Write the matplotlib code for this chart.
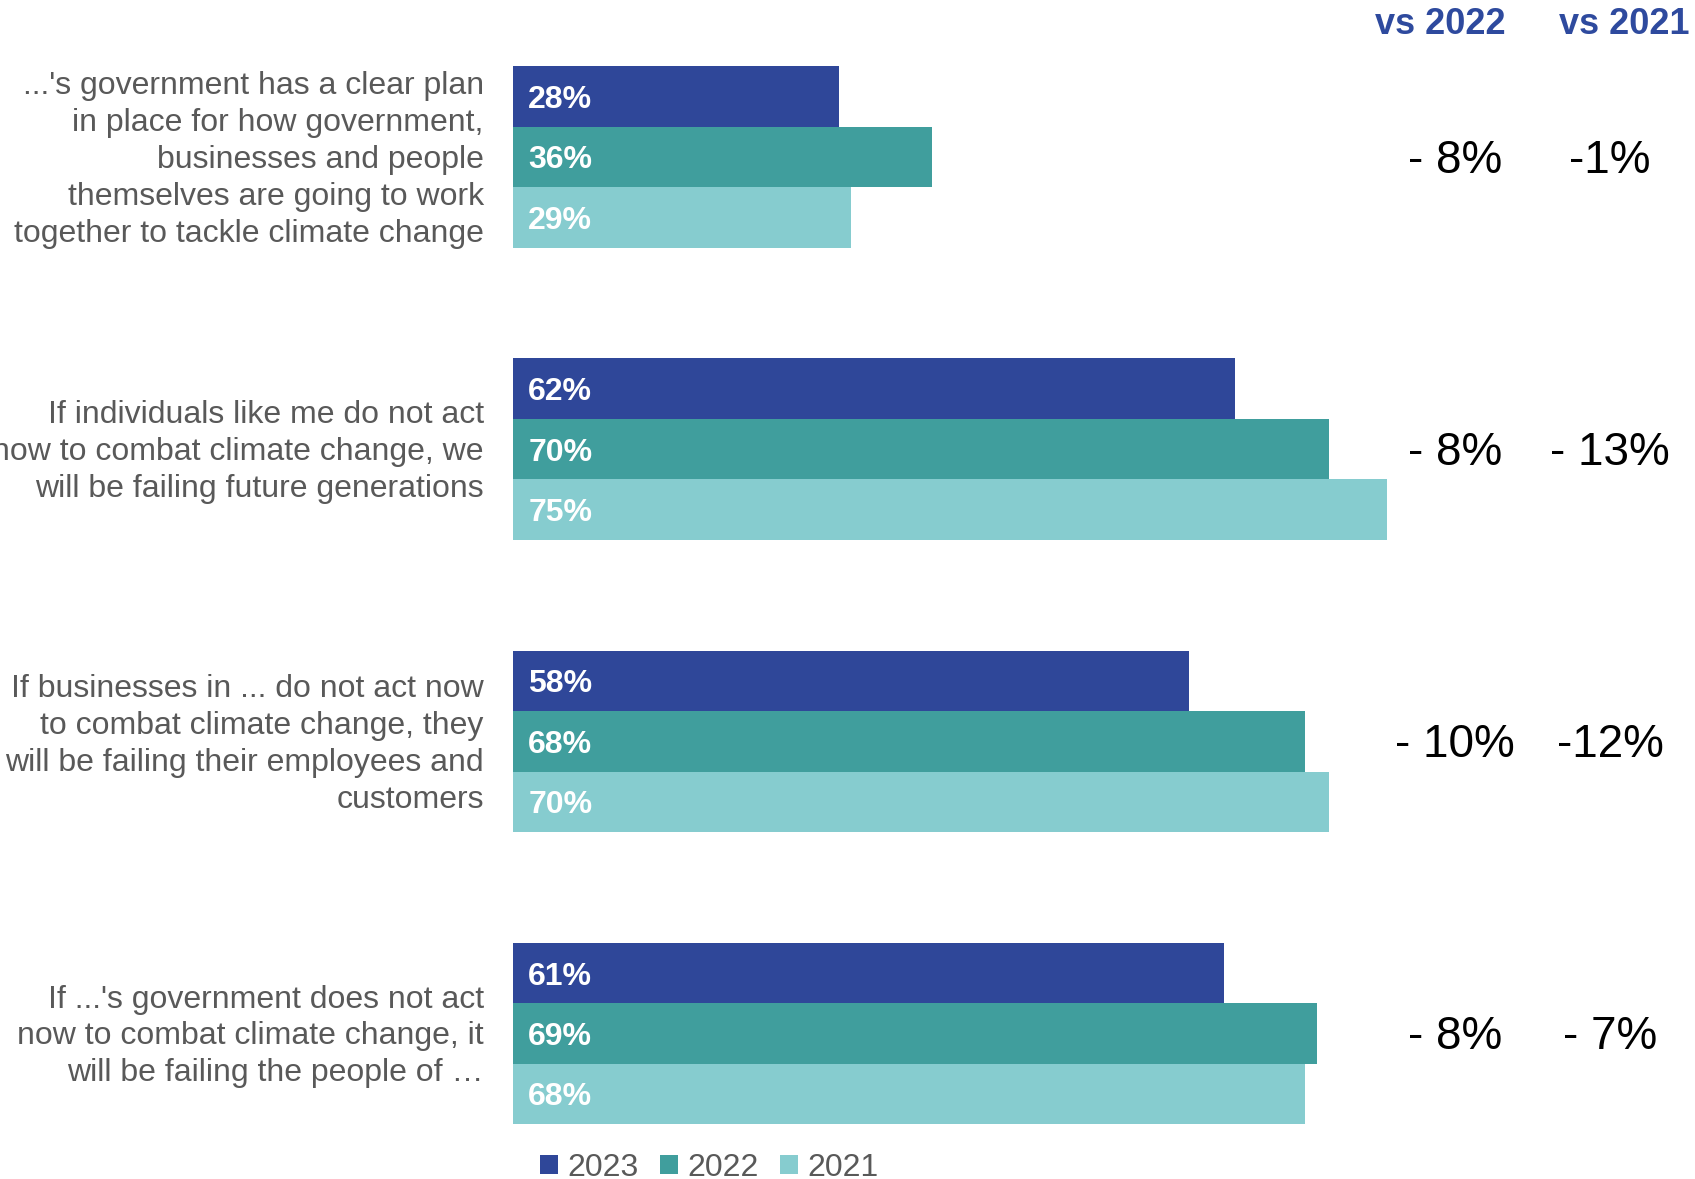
import matplotlib.pyplot as plt
import numpy as np

# data
enunciados = [
    "...'s government has a clear plan\nin place for how government,\nbusinesses and people\nthemselves are going to work\ntogether to tackle climate change",
    "If individuals like me do not act\nnow to combat climate change, we\nwill be failing future generations",
    "If businesses in ... do not act now\nto combat climate change, they\nwill be failing their employees and\ncustomers",
    "If ...'s government does not act\nnow to combat climate change, it\nwill be failing the people of \u2026",
]
anios = ["2023", "2022", "2021"]
valores_2023 = [28, 62, 58, 61]
valores_2022 = [36, 70, 68, 69]
valores_2021 = [29, 75, 70, 68]
vs_2022 = ["- 8%", "- 8%", "- 10%", "- 8%"]
vs_2021 = ["-1%", "- 13%", "-12%", "- 7%"]
colores = ["#2F4799", "#409E9D", "#86CCCF"]

plt.rcParams['font.family'] = ['Liberation Sans', 'DejaVu Sans']

fig = plt.figure(figsize=(16.95, 11.79), dpi=100)
ax = fig.add_axes([513 / 1695, 0, 1165 / 1695, 1])

series = [valores_2023, valores_2022, valores_2021]
alto = 0.207
y = np.arange(len(enunciados))
for k, (vals, col) in enumerate(zip(series, colores)):
    pos = y + (k - 1) * alto
    ax.barh(pos, vals, height=alto, color=col, label=anios[k])
    for p, v in zip(pos, vals):
        # un poco mas abajo para centrar los digitos
        ax.text(1.3, p + 0.012, "%d%%" % v, color="white", fontsize=23, fontweight="bold",
                va="center", ha="left")

ax.set_xlim(0, 100)
ax.set_ylim(3.498, -0.537)
ax.axis("off")

# etiquetas de categorias (a la izquierda)
for i, t in enumerate(enunciados):
    ax.text(-2.5, i + 0.01, t, ha="right", va="center", fontsize=23, color="#595959",
            linespacing=1.3, clip_on=False)

# columnas de cambio
fig.text(1440 / 1695, 1 - 24 / 1179, "vs 2022", ha="center", va="center",
         fontsize=26, fontweight="bold", color="#2E4A9E")
fig.text(1624 / 1695, 1 - 24 / 1179, "vs 2021", ha="center", va="center",
         fontsize=26, fontweight="bold", color="#2E4A9E")
for i in range(len(enunciados)):
    yc = ax.transData.transform((0, i))[1] - 4
    yf = fig.transFigure.inverted().transform((0, yc))[1]
    fig.text(1455 / 1695, yf, vs_2022[i], ha="center", va="center", fontsize=33, color="black")
    fig.text(1610 / 1695, yf, vs_2021[i], ha="center", va="center", fontsize=33, color="black")

# leyenda
fig.legend(loc="center left", bbox_to_anchor=(540 / 1695, 11 / 1179), ncol=3, frameon=False,
           fontsize=23, handlelength=0.55, handleheight=0.55, handletextpad=0.3,
           columnspacing=0.68, labelcolor="#595959", borderpad=0, borderaxespad=0)

fig.savefig("out.png", dpi=100)
